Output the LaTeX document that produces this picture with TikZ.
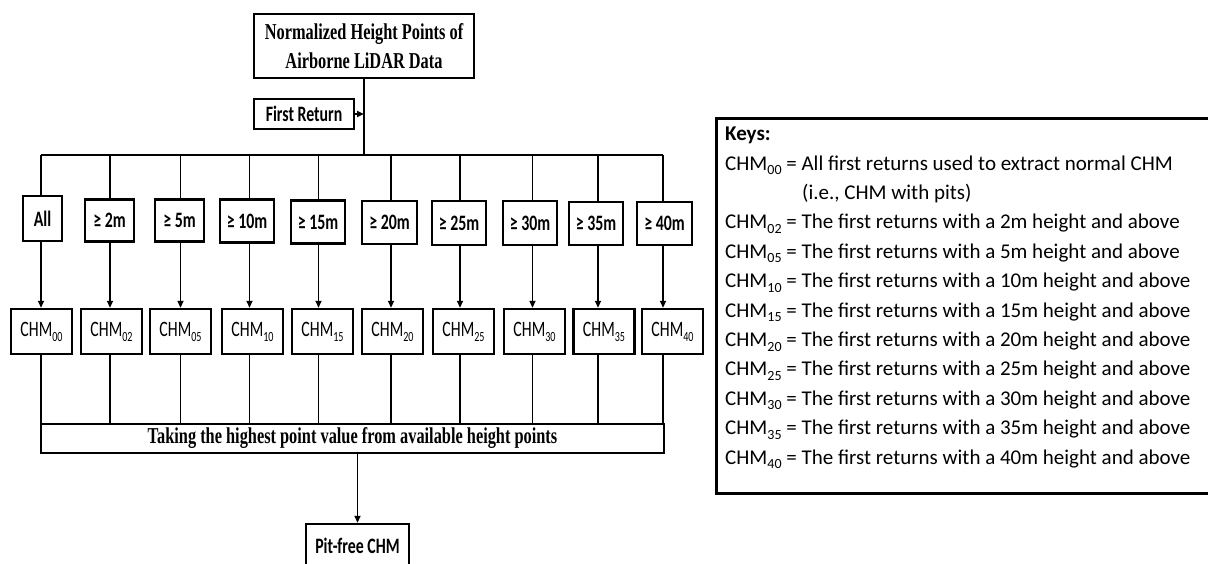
\documentclass[tikz,border=0pt]{standalone}
\usepackage{fontspec}
\usepackage{graphicx}
\setmainfont{Liberation Serif}
\newfontfamily\calibfont{Carlito}
\usetikzlibrary{arrows.meta}
% horizontally narrowed text, as in the flow chart
\newcommand\nar[1]{\scalebox{0.72}[1]{#1}}
% lowered index digits
\newcommand\sbs[1]{\raisebox{-0.22em}{\fontsize{14}{14}\selectfont #1}}
\newcommand\chm[1]{CHM\sbs{#1}}
\begin{document}
\begin{tikzpicture}[x=1pt,y=-1pt,
  box/.style={draw,line width=2.4pt,inner sep=0pt,align=center},
  serifbox/.style={box,font=\fontsize{22.7}{29}\selectfont\bfseries},
  sansbox/.style={box,font=\fontsize{22}{26}\selectfont\calibfont},
  boldsans/.style={box,font=\fontsize{22}{26}\selectfont\calibfont\bfseries},
  link/.style={line width=1.8pt},
  arr/.style={link,-{Triangle[length=7pt,width=6pt]}},
  keyline/.style={anchor=base west,inner sep=0pt,font=\fontsize{21}{25}\selectfont\calibfont}
]
\fill[white] (0,0) rectangle (1208,563);
\useasboundingbox (0,0) rectangle (1208,563);

% source data and first-return filter
\node[serifbox,minimum width=220pt,minimum height=64pt] (top) at (364,46)
  {\nar{Normalized Height Points of}\\\nar{Airborne LiDAR Data}};
\node[boldsans,minimum width=100pt,minimum height=30pt] (first) at (304,114) {\nar{First Return}};

% distribution bus
\coordinate (busL) at (41,155);
\coordinate (busR) at (663,155);
\draw[link] (top.south) -- (top.south |- busL);
\draw[link] (busL) -- (busR);
\draw[arr] (first.east) -- (first.east -| top.south);

% merging bar and final product
\node[serifbox,minimum width=623pt,minimum height=29pt] (bar) at (352.5,438.5)
  {\nar{Taking the highest point value from available height points}};
\node[boldsans,minimum width=103pt,minimum height=44pt] (pit) at (357.5,546) {\nar{Pit-free CHM}};
\draw[arr] (bar.south -| pit.north) -- (pit.north);

% height thresholds and the CHM built from each
\foreach \i/\cx/\tx/\tw/\ty/\th/\lab/\chx/\sb in {
  1/41/42.5/39/218.5/45/All/41.5/00,
  2/110/109.5/49/220.5/42/{≥ 2m}/111.5/02,
  3/180.5/179.5/49/220.5/42/{≥ 5m}/180.5/05,
  4/249.5/247/54/221/43/{≥ 10m}/252.5/10,
  5/318.5/318/54/222/43/{≥ 15m}/322.5/15,
  6/391/389.5/55/222.5/43/{≥ 20m}/392.5/20,
  7/460/459/54/223/44/{≥ 25m}/463.5/25,
  8/532.5/530/54/223/44/{≥ 30m}/534.5/30,
  9/598/596/54/223.5/43/{≥ 35m}/604/35,
  10/663/664.5/55/223.5/43/{≥ 40m}/672.5/40}{
  \coordinate (b\i) at (\cx,155);
  \node[boldsans,minimum width=\tw pt,minimum height=\th pt] (t\i) at (\tx,\ty) {\nar{\lab}};
  \node[sansbox,minimum width=61pt,minimum height=45pt] (c\i) at (\chx,331.5) {\nar{\chm{\sb}}};
  \draw[link] (b\i) -- (b\i |- t\i.north);
  \draw[arr] (b\i |- t\i.south) -- (b\i |- c\i.north);
  \draw[link] (b\i |- c\i.south) -- (b\i |- bar.north);
}

% legend
\node[draw,line width=2.6pt,inner sep=0pt,minimum width=525pt,minimum height=375pt,anchor=north west] (keybox) at (715,117) {};
\node[keyline,font=\fontsize{21}{25}\selectfont\calibfont\bfseries] (k0) at (725,140.6) {Keys:};
\node[keyline] (k1) at (725,170) {\chm{00} = All first returns used to extract normal CHM};
\node[keyline] (k1b) at (802,199.4) {(i.e., CHM with pits)};
\node[keyline] (k2) at (725,228.8) {\chm{02} = The first returns with a 2m height and above};
\node[keyline] (k3) at (725,258.2) {\chm{05} = The first returns with a 5m height and above};
\node[keyline] (k4) at (725,287.6) {\chm{10} = The first returns with a 10m height and above};
\node[keyline] (k5) at (725,317) {\chm{15} = The first returns with a 15m height and above};
\node[keyline] (k6) at (725,346.4) {\chm{20} = The first returns with a 20m height and above};
\node[keyline] (k7) at (725,375.8) {\chm{25} = The first returns with a 25m height and above};
\node[keyline] (k8) at (725,405.2) {\chm{30} = The first returns with a 30m height and above};
\node[keyline] (k9) at (725,434.6) {\chm{35} = The first returns with a 35m height and above};
\node[keyline] (k10) at (725,464) {\chm{40} = The first returns with a 40m height and above};
\end{tikzpicture}
\end{document}
